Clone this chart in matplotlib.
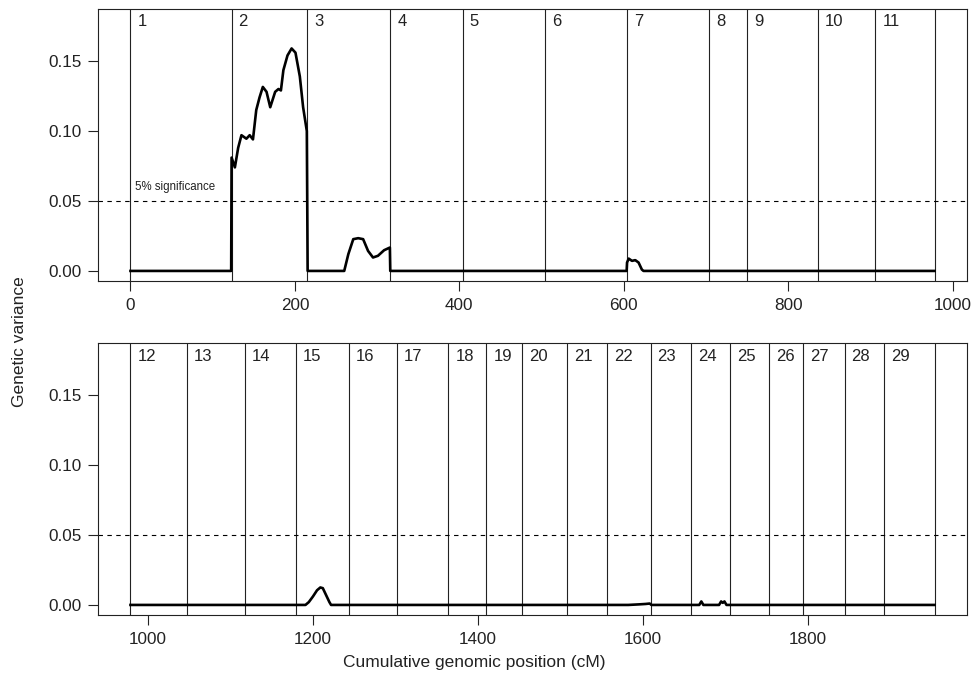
import matplotlib as mpl
import matplotlib.pyplot as plt
import numpy as np

mpl.rcParams['font.family'] = ['Liberation Sans', 'DejaVu Sans']

# chromosome start positions (cM, cumulative) + end of last chromosome
chr_top = [0, 123, 215, 316, 404, 504, 604, 704, 750, 836, 906, 978]
chr_bot = [979, 1047, 1118, 1179, 1244, 1302, 1364, 1410, 1453, 1508, 1556, 1609,
           1658, 1705, 1753, 1794, 1844, 1892, 1953]
chr_names_top = [str(i) for i in range(1, 12)]
chr_names_bot = [str(i) for i in range(12, 30)]

# genetic variance profile
pos_top = [0, 122.5, 123, 127, 131, 135, 141, 145, 149, 153, 157, 161, 165.5, 170,
           176, 180, 183, 186, 191, 196, 200.7, 206, 210, 214.5, 215.5,
           260, 265, 271, 277, 283, 289, 295, 301, 308.5, 315.5, 316,
           603.5, 604, 606, 610, 614, 618, 622, 624, 978]
var_top = [0, 0, 0.081, 0.074, 0.088, 0.097, 0.0945, 0.097, 0.094, 0.115, 0.124, 0.1315,
           0.128, 0.117, 0.128, 0.130, 0.129, 0.1435, 0.154, 0.159, 0.156, 0.139, 0.117,
           0.100, 0,
           0, 0.012, 0.0227, 0.0234, 0.0227, 0.0143, 0.0096, 0.0108, 0.0148, 0.0167, 0,
           0, 0.006, 0.0088, 0.0072, 0.0077, 0.006, 0.001, 0, 0]

pos_bot = [979, 1191, 1195, 1200, 1205, 1209, 1212, 1216, 1220, 1222,
           1582, 1595, 1603, 1608, 1610,
           1668, 1670.5, 1673, 1692, 1694.5, 1696.5, 1698.5, 1701, 1953]
var_bot = [0, 0, 0.002, 0.006, 0.0105, 0.0125, 0.012, 0.007, 0.002, 0,
           0, 0.0004, 0.0007, 0.001, 0,
           0, 0.0025, 0, 0, 0.0025, 0.0015, 0.0025, 0, 0]

xticks_top = [0, 200, 400, 600, 800, 1000]
xticks_bot = [1000, 1200, 1400, 1600, 1800]
yticks = [0.00, 0.05, 0.10, 0.15]
threshold = 0.05

W, H = 974, 683
f = plt.figure(figsize=(W / 100, H / 100), dpi=100)
ax1 = f.add_axes([98.3 / W, 1 - 281 / H, (966.7 - 98.3) / W, 272 / H])
ax2 = f.add_axes([98.3 / W, 1 - 615 / H, (966.7 - 98.3) / W, 271.7 / H])


def r_lim(lo, hi):
    # R style 4% padding
    d = (hi - lo) * 0.04
    return lo - d, hi + d


def setup(ax, chrs, names, pos, var, xticks):
    ax.set_xlim(*r_lim(chrs[0], chrs[-1]))
    ax.set_ylim(*r_lim(0, 0.18))
    for x in chrs:
        ax.axvline(x, color='#222222', lw=0.8, zorder=1)
    for x, n in zip(chrs[:-1], names):
        ax.text(x + 8.5, 0.1747, n, fontsize=12, ha='left', va='baseline', color='#222222')
    ax.axhline(threshold, color='black', lw=0.8, ls=(0, (4, 4)), zorder=1)
    ax.plot(pos, var, color='black', lw=1.9, zorder=3, solid_joinstyle='round')
    ax.set_xticks(xticks)
    ax.set_yticks(yticks)
    ax.set_yticklabels(['%.2f' % y for y in yticks])
    ax.tick_params(direction='out', length=7.2, width=0.8, labelsize=12.3, pad=5,
                   color='#222222', labelcolor='#222222')
    for s in ax.spines.values():
        s.set_linewidth(0.8)
        s.set_color('#222222')


setup(ax1, chr_top, chr_names_top, pos_top, var_top, xticks_top)
setup(ax2, chr_bot, chr_names_bot, pos_bot, var_bot, xticks_bot)

ax1.text(5, 0.058, '5% significance', fontsize=8.3, ha='left', va='baseline', color='#222222')

f.text(20 / W, 1 - 342 / H, 'Genetic variance', rotation=90, fontsize=12.5,
       ha='center', va='center', color='#222222')
f.text(474 / W, 1 - 663 / H, 'Cumulative genomic position (cM)', fontsize=12.5,
       ha='center', va='center', color='#222222')

f.savefig('out.png', dpi=100, facecolor='white')
